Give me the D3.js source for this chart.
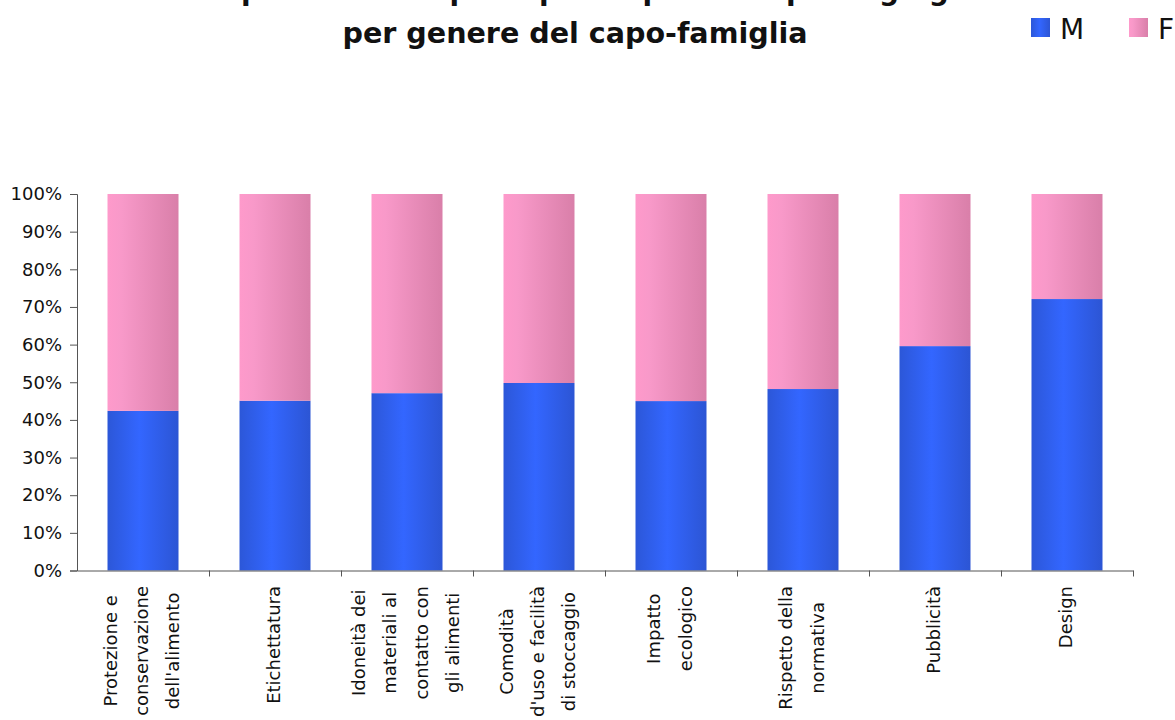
<!DOCTYPE html>
<html><head><meta charset="utf-8">
<script src="https://cdn.jsdelivr.net/npm/d3@7"></script>
<style>
html,body{margin:0;padding:0;background:#fff;overflow:hidden}
text{font-family:"DejaVu Sans",sans-serif;fill:#111}
</style></head>
<body>
<svg id="c" width="1175" height="720"></svg>
<script>
const categories = [
  ["Protezione e","conservazione","dell'alimento"],
  ["Etichettatura"],
  ["Idoneità dei","materiali al","contatto con","gli alimenti"],
  ["Comodità","d'uso e facilità","di stoccaggio"],
  ["Impatto","ecologico"],
  ["Rispetto della","normativa"],
  ["Pubblicità"],
  ["Design"]
];
const seriesNames = ["M","F"];
const valuesM = [42.4, 45.1, 47.1, 49.8, 45.0, 48.2, 59.6, 72.1];
const valuesF = [57.6, 54.9, 52.9, 50.2, 55.0, 51.8, 40.4, 27.9];
const yTicks = [0,10,20,30,40,50,60,70,80,90,100];
const titleLines = ["Importanza dei principali aspetti del packaging","per genere del capo-famiglia"];

(function(){
const svg = d3.select("#c");
const pLeft = 77, pRight = 1133, pTop = 194, pBottom = 570.5;
const keys = categories.map((c,i)=>i);
const x = d3.scaleBand().domain(keys).range([pLeft,pRight]).paddingInner(0.4621).paddingOuter(0.2311);
const y = d3.scaleLinear().domain([0,100]).range([pBottom,pTop]);

const defs = svg.append("defs");
const gB = defs.append("linearGradient").attr("id","gB").attr("x1","0").attr("x2","1").attr("y1","0").attr("y2","0");
gB.append("stop").attr("offset","0").attr("stop-color","#2c57d8");
gB.append("stop").attr("offset","0.45").attr("stop-color","#3366ff");
gB.append("stop").attr("offset","1").attr("stop-color","#2c55d4");
const gP = defs.append("linearGradient").attr("id","gP").attr("x1","0").attr("x2","1").attr("y1","0").attr("y2","0");
gP.append("stop").attr("offset","0").attr("stop-color","#fe9acb");
gP.append("stop").attr("offset","0.2").attr("stop-color","#f899c9");
gP.append("stop").attr("offset","1").attr("stop-color","#d97fa9");
const fills = ["url(#gB)","url(#gP)"];

const data = keys.map(i=>({i, M:valuesM[i], F:valuesF[i]}));
const stack = d3.stack().keys(seriesNames)(data);
svg.append("g").selectAll("g").data(stack).join("g")
  .attr("fill",(d,k)=>fills[k])
  .selectAll("rect").data(d=>d).join("rect")
  .attr("x",d=>x(d.data.i)).attr("width",x.bandwidth())
  .attr("y",d=>y(d[1])).attr("height",d=>y(d[0])-y(d[1]));

// y axis
const ya = svg.append("g").attr("transform",`translate(${pLeft},0)`)
  .call(d3.axisLeft(y).tickValues(yTicks).tickFormat(d=>d+"%").tickSize(7).tickPadding(8));
ya.select(".domain").attr("stroke","#555");
ya.selectAll(".tick line").attr("stroke","#555");
ya.selectAll("text").attr("font-size",18).attr("font-family","DejaVu Sans").attr("fill","#111");

// x axis line and ticks at band boundaries
const xb = d3.scaleLinear().domain([0,categories.length]).range([pLeft,pRight]);
const xa = svg.append("g").attr("transform",`translate(0,${pBottom})`)
  .call(d3.axisBottom(xb).tickValues(d3.range(0,categories.length+1)).tickFormat("").tickSize(6).tickSizeOuter(0));
xa.select(".domain").attr("stroke","#555");
xa.selectAll(".tick line").attr("stroke","#555");
xa.selectAll(".tick").filter(d=>d===0).remove();

// category labels
const lineGap = 31.3;
categories.forEach((lines,i)=>{
  const cx = x(i)+x.bandwidth()/2;
  const g = svg.append("g");
  const ts = lines.map((l,j)=>g.append("text").text(l).attr("font-size",18).attr("text-anchor","middle"));
  const maxW = d3.max(ts, t=>t.node().getComputedTextLength());
  const cy = 586 + maxW/2;
  ts.forEach((t,j)=>{
    const off = (j-(lines.length-1)/2)*lineGap;
    t.attr("transform",`translate(${cx+off+5},${cy}) rotate(-90)`);
  });
});

// title (first line is cropped at the top edge, as in the reference)
svg.append("text").attr("x",575).attr("y",0).attr("text-anchor","middle")
  .attr("font-size",28).attr("font-weight","bold").text(titleLines[0]);
svg.append("text").attr("x",575).attr("y",43).attr("text-anchor","middle")
  .attr("font-size",28).attr("font-weight","bold").attr("textLength",465).attr("lengthAdjust","spacingAndGlyphs").text(titleLines[1]);

// legend
const lg = svg.append("g");
seriesNames.forEach((s,k)=>{
  const lx = 1031 + k*98;
  lg.append("rect").attr("x",lx).attr("y",18).attr("width",19).attr("height",19).attr("fill",fills[k]);
  lg.append("text").attr("x",lx+29).attr("y",38.5).attr("font-size",28).text(s);
});
})();
</script>
</body></html>
